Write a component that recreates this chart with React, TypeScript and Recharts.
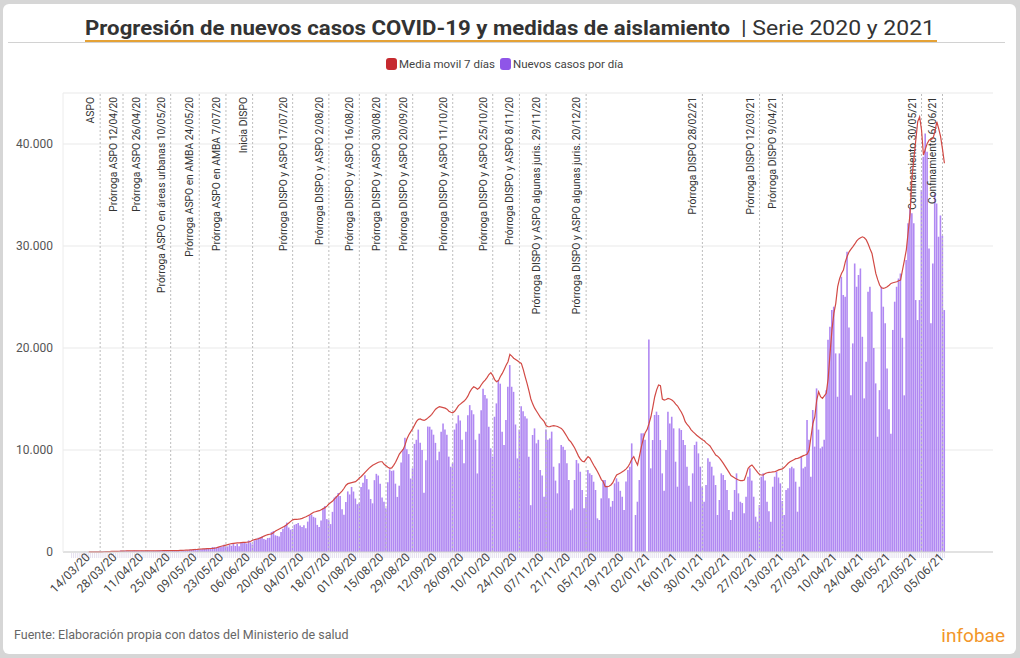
import {
  Bar,
  CartesianGrid,
  ComposedChart,
  Line,
  ReferenceLine,
  XAxis,
  YAxis,
} from "recharts";

// Nuevos casos por día, una lista por mes (05/03/20 a 06/06/21)
const casosMar20 = [0, 1, 6, 1, 3, 5, 2, 12, 3, 3, 11, 11, 9, 14, 18, 31, 30, 67, 36, 35, 86, 87, 101, 55, 56, 75, 146];
const casosAbr20 = [88, 132, 113, 87, 104, 100, 146, 127, 111, 81, 115, 98, 101, 144, 112, 83, 113, 90, 124, 152, 172, 89, 147, 135, 173, 111, 123, 111, 124, 143];
const casosMay20 = [83, 165, 203, 134, 146, 235, 210, 244, 312, 178, 263, 303, 290, 316, 300, 330, 325, 480, 474, 452, 486, 535, 535, 704, 562, 552, 736, 612, 796, 595, 795];
const casosJun20 = [564, 904, 949, 929, 840, 1136, 939, 742, 1141, 1226, 1386, 1391, 1531, 1282, 1208, 1374, 1393, 1958, 2060, 1634, 1581, 1531, 1955, 2285, 2606, 2886, 2401, 2189, 2262, 2667];
const casosJul20 = [2744, 2845, 2590, 2439, 2632, 2330, 2979, 3604, 3663, 3449, 3355, 2657, 2442, 3099, 4250, 4518, 3223, 3120, 2737, 3937, 5344, 5493, 5782, 5493, 4190, 3645, 4890, 5939, 5641, 6377, 5929];
const casosAgo20 = [5241, 4688, 4824, 6377, 6792, 7513, 7147, 6134, 5200, 4770, 7043, 7663, 7498, 6693, 5352, 4935, 4300, 6840, 8100, 7950, 8000, 6700, 5400, 6500, 8770, 10100, 11200, 10080, 9600, 7200, 8200];
const casosSep20 = [10600, 11000, 12000, 10700, 10000, 5800, 9000, 12300, 12280, 12000, 11500, 10700, 9000, 9840, 11800, 12600, 12000, 11500, 9350, 8360, 8700, 12000, 12600, 13400, 12900, 11000, 8700, 11800, 13400, 14400];
const casosOct20 = [13900, 13500, 11000, 7700, 11600, 13900, 16000, 15400, 15060, 12280, 10160, 9350, 13260, 14570, 16860, 16500, 11800, 10500, 12940, 16200, 18330, 16200, 15700, 12500, 9180, 12000, 14300, 13800, 13300, 13100, 9350];
const casosNov20 = [4590, 11470, 12120, 10650, 11000, 8040, 7500, 5420, 12000, 11000, 11140, 11800, 8360, 7000, 5750, 8700, 10490, 10330, 10000, 8700, 7060, 4100, 4260, 7060, 9020, 8690, 7870, 6080, 4300, 5400];
const casosDic20 = [8036, 7710, 7550, 6890, 6080, 3300, 3140, 5260, 7056, 7056, 6500, 5260, 4440, 5000, 6730, 7220, 6890, 6000, 5420, 4116, 6900, 8036, 8360, 10650, 0, 3630, 4930, 7056, 11630, 11630, 11000];
const casosEne21 = [0, 20840, 8200, 10976, 13430, 13760, 13430, 10976, 7709, 6000, 10000, 13760, 12610, 13260, 12120, 8850, 6400, 12120, 11960, 10980, 10500, 8360, 6500, 4933, 7709, 10490, 10820, 9670, 8360, 6400, 4933];
const casosFeb21 = [6570, 9180, 8850, 8360, 7500, 6570, 3630, 5100, 7710, 7550, 7060, 6080, 4120, 3140, 3950, 6080, 7710, 5750, 4930, 4800, 3790, 5420, 7380, 8200, 7000, 5420, 3460, 2970];
const casosMar21 = [4600, 7380, 7710, 7000, 4930, 4000, 2970, 6400, 7380, 7870, 7300, 6730, 5000, 3630, 6080, 6240, 8200, 8360, 8200, 6890, 3950, 6400, 9350, 8200, 8360, 12940, 11000, 7380, 13920, 10330, 16040];
const casosAbr21 = [12000, 10160, 10330, 11000, 15870, 20800, 22090, 23720, 24050, 19470, 15220, 19470, 26980, 25190, 25020, 29430, 22000, 15360, 20450, 28290, 26000, 27150, 27800, 21100, 15060, 18650, 25510, 26000, 23560, 20000];
const casosMay21 = [16530, 11300, 15870, 26000, 24050, 22420, 18000, 14000, 11600, 21770, 24540, 26000, 26820, 27310, 21000, 15360, 28620, 32220, 33680, 33200, 32220, 24700, 22740, 24700, 35480, 38750, 41030, 39240, 29760, 22420, 28290];
const casosJun21 = [35150, 34170, 30900, 33000, 31000, 23720];

// Media móvil 7 días (14/03/20 a 06/06/21)
const mediaMar20 = [3, 5, 7, 8, 10, 12, 15, 20, 25, 32, 36, 42, 52, 60, 68, 70, 75, 85];
const mediaAbr20 = [95, 100, 105, 108, 110, 110, 115, 118, 115, 112, 110, 108, 106, 110, 112, 110, 108, 108, 112, 118, 125, 128, 130, 132, 135, 130, 130, 128, 130, 132];
const mediaMay20 = [150, 160, 170, 180, 190, 200, 215, 230, 245, 260, 280, 295, 305, 315, 325, 335, 345, 355, 370, 420, 480, 540, 590, 630, 680, 730, 780, 830, 850, 870, 890];
const mediaJun20 = [900, 920, 940, 950, 960, 980, 1050, 1150, 1220, 1260, 1300, 1380, 1460, 1560, 1640, 1700, 1740, 1780, 1900, 2050, 2150, 2250, 2350, 2450, 2550, 2700, 2850, 3000, 3150, 3200];
const mediaJul20 = [3200, 3220, 3250, 3300, 3380, 3450, 3550, 3650, 3780, 3900, 3950, 4000, 4050, 4150, 4250, 4350, 4500, 4700, 4850, 5000, 5200, 5400, 5600, 5800, 6000, 6250, 6550, 6700, 6750, 6800, 6850];
const mediaAgo20 = [6900, 7050, 7250, 7400, 7600, 7800, 8000, 8200, 8350, 8500, 8600, 8700, 8800, 8850, 8850, 8600, 8450, 8300, 8200, 8250, 8500, 8800, 9200, 9600, 9850, 10050, 10500, 11100, 11500, 11800, 12100];
const mediaSep20 = [12450, 12800, 13000, 13050, 12950, 12900, 13000, 13150, 13300, 13500, 13750, 14000, 14150, 14250, 14200, 14150, 14100, 14000, 13800, 13700, 13650, 13800, 14050, 14350, 14500, 14650, 14800, 15000, 15300, 15700];
const mediaOct20 = [16000, 16200, 16100, 15950, 16100, 16400, 16650, 16860, 17100, 17400, 17580, 17300, 16900, 16700, 16800, 17200, 17510, 17900, 18300, 18650, 19370, 19200, 19000, 18880, 18750, 18600, 18490, 17900, 17200, 16530, 15800];
const mediaNov20 = [15000, 14500, 14100, 13800, 13500, 13200, 13000, 12780, 12400, 12280, 12300, 12350, 12380, 12350, 12300, 12200, 12120, 11900, 11600, 11300, 10980, 10800, 10500, 10200, 9800, 9400, 9100, 8900, 8850, 9100];
const mediaDic20 = [9350, 9200, 8850, 8500, 8200, 7870, 7500, 7100, 6890, 6400, 6400, 6450, 6570, 6800, 7200, 7550, 7650, 7750, 7870, 8000, 8150, 8360, 8700, 9100, 9350, 8900, 8530, 9400, 10330, 11100, 11700];
const mediaEne21 = [12000, 12600, 13260, 14200, 15220, 15900, 16370, 16300, 15000, 14900, 14950, 15060, 15000, 14900, 14750, 14500, 14310, 14000, 13700, 13300, 12780, 12500, 12300, 12000, 11800, 11630, 11450, 11300, 11150, 11000, 10900];
const mediaFeb21 = [10700, 10550, 10400, 10100, 9800, 9510, 9400, 9200, 8950, 8690, 8400, 8100, 7800, 7500, 7380, 7250, 7150, 7060, 7000, 7000, 7060, 7600, 8200, 8400, 8530, 8300, 8040, 7800];
const mediaMar21 = [7600, 7550, 7550, 7700, 7770, 7800, 7820, 7850, 7870, 7950, 8050, 8100, 8150, 8300, 8500, 8700, 8850, 8950, 9050, 9150, 9180, 9250, 9350, 9450, 9510, 9600, 10000, 11300, 12600, 13260, 14900];
const mediaAbr21 = [15710, 15220, 15060, 15300, 15550, 17000, 19500, 21800, 23400, 24380, 26010, 26800, 27300, 27640, 28450, 29000, 29430, 29700, 29930, 30200, 30500, 30700, 30800, 30900, 30800, 30600, 30200, 29700, 29270, 28300];
const mediaMay21 = [27310, 26700, 26170, 25900, 25840, 25900, 26000, 26150, 26330, 26400, 26450, 26490, 26600, 26660, 27640, 28600, 29600, 31400, 33200, 36790, 38600, 40390, 42200, 42670, 41370, 38920, 39500, 40060, 40390, 40450, 40550];
const mediaJun21 = [41200, 42180, 41500, 40720, 39500, 38110];

const CASOS = [
  ...casosMar20, ...casosAbr20, ...casosMay20, ...casosJun20, ...casosJul20, ...casosAgo20,
  ...casosSep20, ...casosOct20, ...casosNov20, ...casosDic20, ...casosEne21, ...casosFeb21,
  ...casosMar21, ...casosAbr21, ...casosMay21, ...casosJun21,
];
const MEDIA = [
  ...mediaMar20, ...mediaAbr20, ...mediaMay20, ...mediaJun20, ...mediaJul20, ...mediaAgo20,
  ...mediaSep20, ...mediaOct20, ...mediaNov20, ...mediaDic20, ...mediaEne21, ...mediaFeb21,
  ...mediaMar21, ...mediaAbr21, ...mediaMay21, ...mediaJun21,
];

// el eje va del 01/03/20 al 01/07/21
const TOTAL_DIAS = 488;
const PRIMER_CASO = 4; // 05/03/20
const PRIMERA_MEDIA = 13; // 14/03/20

const ETIQUETAS_X = [
  "14/03/20", "28/03/20", "11/04/20", "25/04/20", "09/05/20", "23/05/20", "06/06/20", "20/06/20",
  "04/07/20", "18/07/20", "01/08/20", "15/08/20", "29/08/20", "12/09/20", "26/09/20", "10/10/20",
  "24/10/20", "07/11/20", "21/11/20", "05/12/20", "19/12/20", "02/01/21", "16/01/21", "30/01/21",
  "13/02/21", "27/02/21", "13/03/21", "27/03/21", "10/04/21", "24/04/21", "08/05/21", "22/05/21",
  "05/06/21",
];
const Y_TICKS = [0, 10000, 20000, 30000, 40000];

const MEDIDAS = [
  { fecha: "20/03/20", texto: "ASPO" },
  { fecha: "01/04/20", texto: "Prórroga ASPO 12/04/20" },
  { fecha: "13/04/20", texto: "Prórroga ASPO 26/04/20" },
  { fecha: "26/04/20", texto: "Prórroga ASPO en áreas urbanas 10/05/20" },
  { fecha: "11/05/20", texto: "Prórroga ASPO en AMBA 24/05/20" },
  { fecha: "25/05/20", texto: "Prórroga ASPO en AMBA 7/07/20" },
  { fecha: "08/06/20", texto: "Inicia DISPO" },
  { fecha: "29/06/20", texto: "Prórroga DISPO y ASPO 17/07/20" },
  { fecha: "18/07/20", texto: "Prórroga DISPO y ASPO 2/08/20" },
  { fecha: "03/08/20", texto: "Prórroga DISPO y ASPO 16/08/20" },
  { fecha: "17/08/20", texto: "Prórroga DISPO y ASPO 30/08/20" },
  { fecha: "31/08/20", texto: "Prórroga DISPO y ASPO 20/09/20" },
  { fecha: "21/09/20", texto: "Prórroga DISPO y ASPO 11/10/20" },
  { fecha: "12/10/20", texto: "Prórroga DISPO y ASPO 25/10/20" },
  { fecha: "26/10/20", texto: "Prórroga DISPO y ASPO 8/11/20" },
  { fecha: "09/11/20", texto: "Prórroga DISPO y ASPO algunas juris. 29/11/20" },
  { fecha: "30/11/20", texto: "Prórroga DISPO y ASPO algunas juris. 20/12/20" },
  { fecha: "30/01/21", texto: "Prórroga DISPO 28/02/21" },
  { fecha: "01/03/21", texto: "Prórroga DISPO 12/03/21" },
  { fecha: "13/03/21", texto: "Prórroga DISPO 9/04/21" },
  { fecha: "25/05/21", texto: "Confinamiento 30/05/21" },
  { fecha: "05/06/21", texto: "Confinamiento 6/06/21" },
];

const FONT = "Roboto, 'Noto Sans', sans-serif";
const COLOR_BARRA = "#b088f2";
const COLOR_LINEA = "#d24a45";

const dd = (n: number) => String(n).padStart(2, "0");
const data = Array.from({ length: TOTAL_DIAS }, (_, i) => {
  const d = new Date(Date.UTC(2020, 2, 1 + i));
  const fecha = `${dd(d.getUTCDate())}/${dd(d.getUTCMonth() + 1)}/${String(d.getUTCFullYear()).slice(2)}`;
  return {
    fecha,
    casos: CASOS[i - PRIMER_CASO] ?? null,
    media: MEDIA[i - PRIMERA_MEDIA] ?? null,
  };
});
const conDato = new Set(data.filter((r) => r.casos !== null).map((r) => r.fecha));

const miles = (v: number) => String(v).replace(/\B(?=(\d{3})+(?!\d))/g, ".");

function TickFecha({ x, y, payload }: any) {
  const v = payload.value as string;
  return (
    <g>
      {conDato.has(v) && <line x1={x} x2={x} y1={y + 1} y2={y + 6} stroke="#e6e1ef" strokeWidth={1} />}
      {ETIQUETAS_X.includes(v) && (
        <text
          x={x + 2}
          y={y + 6}
          transform={`rotate(-45 ${x + 2} ${y + 6})`}
          textAnchor="end"
          fontSize={12}
          fill="#444"
          fontFamily={FONT}
        >
          {v}
        </text>
      )}
    </g>
  );
}

function EtiquetaMedida({ viewBox, texto }: any) {
  const x = viewBox.x - 6;
  const y = viewBox.y + 4;
  return (
    <text x={x} y={y} transform={`rotate(-90 ${x} ${y})`} textAnchor="end" fontSize={10.3} fill="#333" fontFamily={FONT}>
      {texto}
    </text>
  );
}

export default function App() {
  return (
    <div style={{ position: "absolute", left: 0, top: 0, width: 1020, height: 658, background: "#d6d6d6", fontFamily: FONT }}>
      <div style={{ position: "absolute", left: 3, top: 4, width: 1013, height: 650, background: "#fff", borderRadius: 6 }} />
      <svg width={1020} height={658} style={{ position: "absolute", left: 0, top: 0 }}>
        <line x1={8} x2={1005} y1={42.5} y2={42.5} stroke="#d2d2d2" />
        <rect x={85} y={40} width={852} height={2} fill="#e5a236" />
        <text x={85} y={35} fontSize={21} fontWeight={700} fill="#333" textLength={645} lengthAdjust="spacingAndGlyphs">
          Progresión de nuevos casos COVID-19 y medidas de aislamiento
        </text>
        <text x={741} y={35} fontSize={21} fill="#333" textLength={194} lengthAdjust="spacingAndGlyphs">
          | Serie 2020 y 2021
        </text>
        <rect x={386} y={58} width={11} height={12} rx={3} fill="#c62a2f" />
        <text x={399} y={68} fontSize={11.5} fill="#444">Media movil 7 días</text>
        <rect x={500} y={58} width={11} height={12} rx={3} fill="#8f55e8" />
        <text x={513} y={68} fontSize={11.5} fill="#444">Nuevos casos por día</text>
        <text x={14} y={639} fontSize={12.5} fill="#666">
          Fuente: Elaboración propia con datos del Ministerio de salud
        </text>
        <text x={1005} y={642} textAnchor="end" fontSize={19} fill="#f2962a">
          infobae
        </text>
      </svg>
      <div style={{ position: "absolute", left: 0, top: 0 }}>
        <ComposedChart width={1020} height={658} data={data} margin={{ top: 93, right: 27, bottom: 0, left: 8 }}>
          <CartesianGrid vertical={false} stroke="#e9e9e9" />
          <XAxis
            dataKey="fecha"
            interval={0}
            height={106}
            tickSize={0}
            tickMargin={0}
            tickLine={false}
            axisLine={{ stroke: "#d0d0d0" }}
            tick={<TickFecha />}
          />
          <YAxis
            domain={[0, 45000]}
            ticks={Y_TICKS}
            width={55}
            tickLine={false}
            tickMargin={4}
            axisLine={{ stroke: "#ececec" }}
            tickFormatter={miles}
            tick={{ fontSize: 12, fill: "#555", fontFamily: FONT }}
          />
          {MEDIDAS.map((m) => (
            <ReferenceLine
              key={m.fecha}
              x={m.fecha}
              stroke="#bdbdbd"
              strokeDasharray="2 2"
              label={<EtiquetaMedida texto={m.texto} />}
            />
          ))}
          <Bar dataKey="casos" fill={COLOR_BARRA} barSize={1.6} isAnimationActive={false} />
          <Line
            dataKey="media"
            type="linear"
            stroke={COLOR_LINEA}
            strokeWidth={1.2}
            dot={false}
            activeDot={false}
            isAnimationActive={false}
          />
        </ComposedChart>
      </div>
    </div>
  );
}
